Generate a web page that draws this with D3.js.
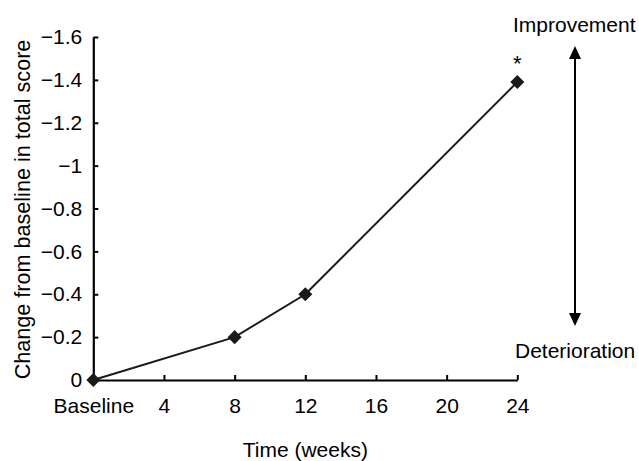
<!DOCTYPE html>
<html><head><meta charset="utf-8">
<script src="https://cdn.jsdelivr.net/npm/d3@7"></script>
<style>body{margin:0;background:#fff}text{font-family:"Liberation Sans",Arial,Helvetica,sans-serif;fill:#000}</style>
</head><body><svg id="c" width="639" height="461"></svg>
<script>
const weeks = [0, 8, 12, 24];
const values = [0, -0.2, -0.4, -1.39];
const xTicks = [0, 4, 8, 12, 16, 20, 24];
const xTickLabels = ["Baseline", "4", "8", "12", "16", "20", "24"];
const yTicks = [0, -0.2, -0.4, -0.6, -0.8, -1, -1.2, -1.4, -1.6];
const yTickLabels = ["0", "\u22120.2", "\u22120.4", "\u22120.6", "\u22120.8", "\u22121", "\u22121.2", "\u22121.4", "\u22121.6"];

const svg = d3.select("#c");
const x = d3.scaleLinear().domain([0, 24]).range([93.3, 517.3]);
const y = d3.scaleLinear().domain([0, -1.6]).range([380, 37]);
const fs = 21;

const xAxis = svg.append("g").attr("transform", `translate(0,${y(0)})`)
  .call(d3.axisBottom(x).tickValues(xTicks).tickSize(-5).tickSizeOuter(0).tickPadding(18)
    .tickFormat((d, i) => xTickLabels[i]));
const yAxis = svg.append("g").attr("transform", `translate(${x(0)},0)`)
  .call(d3.axisLeft(y).tickValues(yTicks).tickSize(-5).tickSizeOuter(0).tickPadding(11)
    .tickFormat((d, i) => yTickLabels[i]));
[xAxis, yAxis].forEach(g => {
  g.select(".domain").attr("stroke", "#000").attr("stroke-width", 2.2);
  g.selectAll(".tick line").attr("stroke", "#000").attr("stroke-width", 2);
  g.selectAll(".tick text").attr("font-size", fs).attr("font-family", null);
  g.attr("font-family", null);
});
xAxis.selectAll(".tick text").attr("dy", "0.71em");

const line = d3.line().x(d => x(d[0])).y(d => y(d[1]));
const pts = weeks.map((w, i) => [w, values[i]]);
svg.append("path").datum(pts).attr("d", line).attr("fill", "none").attr("stroke", "#1a1a1a").attr("stroke-width", 2);
svg.selectAll(".pt").data(pts).enter().append("path")
  .attr("transform", d => `translate(${x(d[0])},${y(d[1])})`)
  .attr("d", d3.symbol().type(d3.symbolDiamond2).size(125)())
  .attr("fill", "#1a1a1a");

svg.append("text").attr("x", x(24)).attr("y", y(values[3]) - 11).attr("text-anchor", "middle")
  .attr("font-size", 22).text("*");

svg.append("text").attr("transform", `translate(30,${(y(0) + y(-1.6)) / 2 + 1}) rotate(-90)`)
  .attr("text-anchor", "middle").attr("font-size", 21.6).text("Change from baseline in total score");
svg.append("text").attr("x", (x(0) + x(24)) / 2).attr("y", 457).attr("text-anchor", "middle")
  .attr("font-size", fs).text("Time (weeks)");

// direction arrow
const ax = 575;
svg.append("line").attr("x1", ax).attr("x2", ax).attr("y1", 55).attr("y2", 317)
  .attr("stroke", "#000").attr("stroke-width", 2);
svg.append("path").attr("d", `M${ax},46 L${ax - 6},59 L${ax + 6},59 Z`).attr("fill", "#000");
svg.append("path").attr("d", `M${ax},326 L${ax - 6},313 L${ax + 6},313 Z`).attr("fill", "#000");
svg.append("text").attr("x", 513).attr("y", 32).attr("font-size", fs).text("Improvement");
svg.append("text").attr("x", 515).attr("y", 358).attr("font-size", fs).text("Deterioration");
</script></body></html>
